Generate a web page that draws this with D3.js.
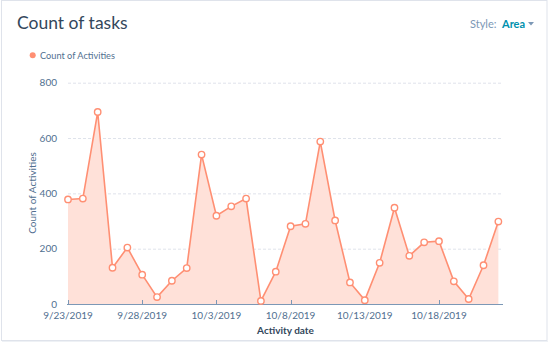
<!DOCTYPE html>
<html><head><meta charset="utf-8">
<script src="https://cdn.jsdelivr.net/npm/d3@7"></script>
<style>
html,body{margin:0;padding:0;background:#fff;}
svg{display:block;font-family:Lato,"Open Sans",sans-serif;}
</style></head><body>
<svg id="c" width="549" height="343"></svg>
<script>
const dates = ["2019-09-23","2019-09-24","2019-09-25","2019-09-26","2019-09-27","2019-09-28","2019-09-29","2019-09-30","2019-10-01","2019-10-02","2019-10-03","2019-10-04","2019-10-05","2019-10-06","2019-10-07","2019-10-08","2019-10-09","2019-10-10","2019-10-11","2019-10-12","2019-10-13","2019-10-14","2019-10-15","2019-10-16","2019-10-17","2019-10-18","2019-10-19","2019-10-20","2019-10-21","2019-10-22"];
const counts = [378,381,694,131,204,106,25,84,130,540,319,353,381,11,117,281,290,587,302,78,14,149,348,174,223,227,82,18,140,298];
const yTicks = [0,200,400,600,800];
const xTickDates = ["2019-09-23","2019-09-28","2019-10-03","2019-10-08","2019-10-13","2019-10-18"];

const parse = d3.utcParse("%Y-%m-%d");
const data = dates.map((d,i)=>({date:parse(d), v:counts[i]}));
const svg = d3.select("#c");

// card
svg.append("line").attr("x1",2).attr("x2",548).attr("y1",341.5).attr("y2",341.5).attr("stroke","#eef1f5");
svg.append("rect").attr("x",1.5).attr("y",0.5).attr("width",545.5).attr("height",340)
  .attr("fill","#fff").attr("stroke","#dfe3eb");

svg.append("text").attr("x",17).attr("y",28.5).attr("font-size",17.5).attr("fill","#33475b").text("Count of tasks");
svg.append("text").attr("x",470).attr("y",27.5).attr("font-size",11).attr("fill","#7c98b6").text("Style:");
svg.append("text").attr("x",502).attr("y",27.5).attr("font-size",11).attr("font-weight","bold").attr("fill","#0091ae").text("Area");
svg.append("path").attr("d","M528,22 L534,22 L531,25.5 Z").attr("fill","#7c98b6");

// legend
svg.append("circle").attr("cx",32.7).attr("cy",55.3).attr("r",3).attr("fill","#ff8f73");
svg.append("text").attr("x",40).attr("y",58.6).attr("font-size",9.2).attr("fill","#516f90").text("Count of Activities");

const x = d3.scaleUtc().domain([parse("2019-09-23"), parse("2019-10-23")]).range([68, 513.2]);
const y = d3.scaleLinear().domain([0,800]).range([304, 82.7]);

// grid
svg.append("g").selectAll("line").data(yTicks.filter(d=>d>0)).join("line")
  .attr("x1",68).attr("x2",503).attr("y1",d=>y(d)+0.5).attr("y2",d=>y(d)+0.5)
  .attr("stroke","#dfe3eb").attr("stroke-dasharray","3,2");

// y labels
svg.append("g").selectAll("text").data(yTicks).join("text")
  .attr("x",57).attr("y",d=>y(d)+3.5).attr("text-anchor","end").attr("font-size",10).attr("fill","#516f90").text(d=>d);
svg.append("text").attr("transform","translate(36,193) rotate(-90)").attr("text-anchor","middle")
  .attr("font-size",10).attr("fill","#516f90").text("Count of Activities");

// area
const area = d3.area().x(d=>x(d.date)).y0(y(0)).y1(d=>y(d.v));
const line = d3.line().x(d=>x(d.date)).y(d=>y(d.v));
svg.append("path").datum(data).attr("d",area).attr("fill","#ffe1d9");
svg.append("path").datum(data).attr("d",line).attr("fill","none").attr("stroke","#ff8f73").attr("stroke-width",1.6);

// x axis
const xt = xTickDates.map(parse);
svg.append("line").attr("x1",67).attr("x2",503).attr("y1",304.5).attr("y2",304.5).attr("stroke","#7c98b6");
svg.append("g").selectAll("line").data(xt).join("line")
  .attr("x1",d=>Math.round(x(d))+0.5).attr("x2",d=>Math.round(x(d))+0.5).attr("y1",300).attr("y2",304.5).attr("stroke","#7c98b6");
const fmt = d=>(d.getUTCMonth()+1)+"/"+d.getUTCDate()+"/"+d.getUTCFullYear();
svg.append("g").selectAll("text").data(xt).join("text")
  .attr("x",d=>x(d)).attr("y",319).attr("text-anchor","middle").attr("font-size",10).attr("fill","#516f90").text(fmt);
svg.append("text").attr("x",285.5).attr("y",334).attr("text-anchor","middle").attr("font-size",10).attr("font-weight","bold").attr("fill","#33475b").text("Activity date");

// points
svg.append("g").selectAll("circle").data(data).join("circle")
  .attr("cx",d=>x(d.date)).attr("cy",d=>y(d.v)).attr("r",3.2)
  .attr("fill","#fff").attr("stroke","#ff8f73").attr("stroke-width",1.4);
</script>
</body></html>
